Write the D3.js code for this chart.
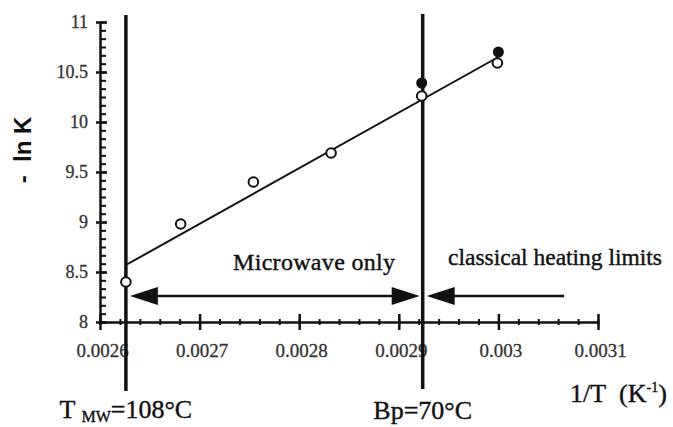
<!DOCTYPE html>
<html>
<head>
<meta charset="utf-8">
<script src="https://cdn.jsdelivr.net/npm/d3@7.9.0/dist/d3.min.js"></script>
<style>
  body { margin: 0; background: #fff; }
  svg { display: block; }
</style>
</head>
<body>
<svg id="chart" width="673" height="427"></svg>
<script>
// values
const openPoints = [
  [0.002626, 8.40],
  [0.002681, 8.98],
  [0.002754, 9.40],
  [0.002832, 9.69],
  [0.002923, 10.26],
  [0.002999, 10.59]
];
const filledPoints = [
  [0.002923, 10.39],
  [0.003000, 10.70]
];
const fitLine = [[0.002626, 8.57], [0.003000, 10.65]];

const xTicks = [0.0026, 0.0027, 0.0028, 0.0029, 0.003, 0.0031];
const xTickLabels = ['0.0026', '0.0027', '0.0028', '0.0029', '0.003', '0.0031'];
const yTicks = [8, 8.5, 9, 9.5, 10, 10.5, 11];
const yTickLabels = ['8', '8.5', '9', '9.5', '10', '10.5', '11'];

// vertical limits: microwave temperature and boiling point
const refLines = [
  { x: 0.002626, top: 11.07, bottom: 7.31 },
  { x: 0.002924, top: 11.08, bottom: 7.33 }
];
// arrows at lnK = 8.26
const arrowY = 8.26;
const arrows = [
  { from: 0.002630, to: 0.002921, headStart: true, headEnd: true },
  { from: 0.002928, to: 0.003066, headStart: true, headEnd: false }
];

const SERIF = '"Liberation Serif", "Times New Roman", serif';
const svg = d3.select('#chart');

let x = d3.scaleLinear().domain([0.0026, 0.0031]).range([100, 598]);
let y = d3.scaleLinear().domain([8, 11]).range([322, 22]);

// minor ticks first
let xMinor = d3.range(0.0026, 0.00310001, 0.00002);
let yMinor = d3.range(8, 11.0001, 0.5 / 6);

svg.append('g')
  .attr('transform', `translate(0,${y(8)})`)
  .call(d3.axisBottom(x).tickValues(xMinor).tickFormat('').tickSizeOuter(0))
  .call(g => g.select('.domain').remove())
  .call(g => g.selectAll('.tick line').attr('y1', -3).attr('y2', 3)
    .attr('stroke', '#111').attr('stroke-width', 2));

svg.append('g')
  .attr('transform', `translate(${x(0.0026)},0)`)
  .call(d3.axisRight(y).tickValues(yMinor).tickFormat('').tickSizeOuter(0).tickSize(6))
  .call(g => g.select('.domain').remove())
  .call(g => g.selectAll('.tick line').attr('stroke', '#111').attr('stroke-width', 2));

// main axes
let xAxis = svg.append('g')
  .attr('transform', `translate(0,${y(8)})`)
  .call(d3.axisBottom(x).tickValues(xTicks)
    .tickFormat((d, i) => xTickLabels[i]).tickSizeOuter(0));
xAxis.select('.domain').attr('stroke', '#111').attr('stroke-width', 2.5);
xAxis.selectAll('.tick line').attr('y1', -8).attr('y2', 8)
  .attr('stroke', '#111').attr('stroke-width', 2.5);
xAxis.selectAll('.tick text')
  .attr('x', 2).attr('y', 35).attr('dy', 0)
  .style('font-family', SERIF).style('font-size', '19px')
  .attr('fill', '#333').attr('stroke', '#333').attr('stroke-width', 0.3);

let yAxis = svg.append('g')
  .attr('transform', `translate(${x(0.0026)},0)`)
  .call(d3.axisLeft(y).tickValues(yTicks)
    .tickFormat((d, i) => yTickLabels[i]).tickSizeOuter(0));
yAxis.select('.domain').attr('stroke', '#111').attr('stroke-width', 2.5);
yAxis.selectAll('.tick line').attr('x1', -4).attr('x2', 7)
  .attr('stroke', '#111').attr('stroke-width', 2.5);
yAxis.selectAll('.tick text')
  .attr('x', -12).attr('dy', '0.32em')
  .style('font-family', SERIF).style('font-size', '18px')
  .attr('fill', '#333').attr('stroke', '#333').attr('stroke-width', 0.3);

// fitted line
svg.append('path')
  .datum(fitLine)
  .attr('d', d3.line().x(d => x(d[0])).y(d => y(d[1])))
  .attr('stroke', '#111').attr('stroke-width', 2).attr('fill', 'none');

// vertical reference lines
svg.selectAll('.ref')
  .data(refLines)
  .enter()
  .append('line')
  .attr('class', 'ref')
  .attr('x1', d => x(d.x)).attr('x2', d => x(d.x))
  .attr('y1', d => y(d.top)).attr('y2', d => y(d.bottom))
  .attr('stroke', '#111').attr('stroke-width', 3.5);

// arrows
const headLen = 28, headHalf = 9;
function head(tipX, dir) {
  let p = d3.path();
  let yy = y(arrowY);
  p.moveTo(tipX, yy);
  p.lineTo(tipX + dir * headLen, yy - headHalf);
  p.lineTo(tipX + dir * headLen, yy + headHalf);
  p.closePath();
  return p.toString();
}
arrows.forEach(a => {
  svg.append('line')
    .attr('x1', x(a.from) + (a.headStart ? headLen - 2 : 0))
    .attr('x2', x(a.to) - (a.headEnd ? headLen - 2 : 0))
    .attr('y1', y(arrowY)).attr('y2', y(arrowY))
    .attr('stroke', '#111').attr('stroke-width', 2.5);
  if (a.headStart) svg.append('path').attr('d', head(x(a.from), 1)).attr('fill', '#111');
  if (a.headEnd) svg.append('path').attr('d', head(x(a.to), -1)).attr('fill', '#111');
});

// data points
svg.selectAll('.filled')
  .data(filledPoints)
  .enter()
  .append('circle')
  .attr('class', 'filled')
  .attr('cx', d => x(d[0])).attr('cy', d => y(d[1]))
  .attr('r', 5.5).attr('fill', '#111');

svg.selectAll('.open')
  .data(openPoints)
  .enter()
  .append('circle')
  .attr('class', 'open')
  .attr('cx', d => x(d[0])).attr('cy', d => y(d[1]))
  .attr('r', 4.8).attr('fill', '#fff')
  .attr('stroke', '#111').attr('stroke-width', 2);

// text
function label(px, py, size) {
  return svg.append('text')
    .attr('x', px).attr('y', py)
    .attr('font-family', SERIF).attr('font-size', size)
    .attr('fill', '#111').attr('stroke', '#111').attr('stroke-width', 0.4);
}

label(233, 270, 24).attr('textLength', 162).text('Microwave only');
label(448, 265, 23.5).attr('textLength', 214).text('classical heating limits');

let tmw = label(x(refLines[0].x), 418, 26).attr('text-anchor', 'middle');
tmw.append('tspan').text('T ');
tmw.append('tspan').attr('font-size', 16).attr('dy', 4).text('MW');
tmw.append('tspan').attr('dy', -4).text('=108°C');

label(x(refLines[1].x), 419, 26).attr('text-anchor', 'middle').text('Bp=70°C');

let unit = label(570, 402, 26);
unit.append('tspan').text('1/T\u00A0\u00A0(K');
unit.append('tspan').attr('font-size', 14).attr('dy', -10).text('-1');
unit.append('tspan').attr('dy', 10).text(')');

svg.append('text')
  .attr('transform', 'translate(31,150) rotate(-90)')
  .attr('text-anchor', 'middle')
  .attr('font-family', '"Liberation Sans", Arial, sans-serif')
  .attr('font-weight', 'bold').attr('font-size', 24).attr('fill', '#111')
  .text('-\u00A0\u00A0ln K');
</script>
</body>
</html>
